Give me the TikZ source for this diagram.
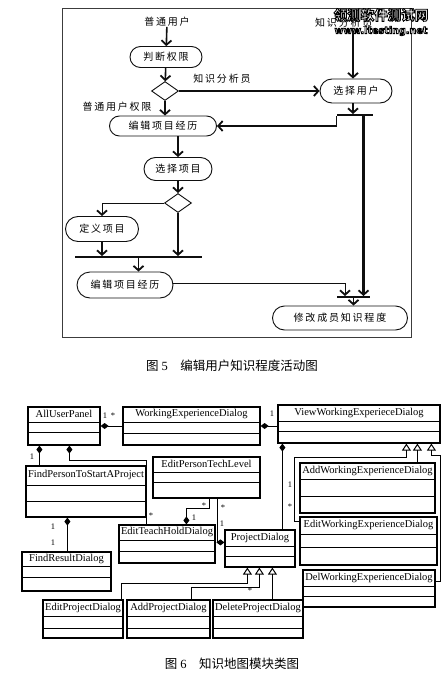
\documentclass[tikz,border=0pt]{standalone}
\usepackage{fontspec}
\setmainfont{Liberation Serif}
\newfontfamily\cjk[LetterSpace=18]{Noto Sans CJK SC}
\newfontfamily\cjkcap{Noto Sans CJK SC}
\newfontfamily\wmfont{Noto Sans CJK SC}
\newfontfamily\wmurlfont{DejaVu Sans}
\usetikzlibrary{positioning,arrows.meta,fit,calc,shapes.misc,shapes.geometric}
\definecolor{flowblack}{RGB}{15,15,15}
\definecolor{framegray}{RGB}{60,60,60}

\newcommand{\umlclass}[6]{%
  \node[classbox, fit={#2 #3}] (#1) {};
  \node[classname] (#1-t) at ($(#1.north)+(0,#4/2)$) {#6};
  \draw[classbox] ($(#1.north west)+(0,#4)$) -- ($(#1.north east)+(0,#4)$);
  \draw[classbox] ($(#1.north west)+(0,#4+#5)$) -- ($(#1.north east)+(0,#4+#5)$);
}
\newcommand{\outlinetext}[2]{%
  \special{pdf:literal direct 2 Tr #1 w 0 0 0 RG}#2\special{pdf:literal direct 0 Tr}}

\begin{document}
\begin{tikzpicture}[x=1pt,y=-1pt,
    statebox/.style={rounded rectangle,draw=flowblack,line width=0.9pt,inner sep=0pt,
      font=\cjk\fontsize{10}{12}\selectfont},
    decision/.style={diamond,draw=flowblack,line width=0.9pt,inner sep=0pt,
      minimum width=27pt,minimum height=19pt},
    syncbar/.style={fill=flowblack,inner sep=0pt,minimum height=1.6pt},
    lbl/.style={inner sep=0pt,font=\cjk\fontsize{10}{12}\selectfont},
    flowline/.style={flowblack,line width=1.6pt,
      -{Straight Barb[length=4.5pt,width=10pt,line width=1.8pt]}},
    flowthin/.style={flowline,line width=0.9pt},
    flowthick/.style={flowline,line width=2.3pt},
    classbox/.style={draw=black,line width=1.2pt,inner sep=0pt},
    classname/.style={inner sep=0pt,font=\fontsize{10.5}{11}\selectfont},
    mult/.style={inner sep=0pt,font=\fontsize{8.5}{9}\selectfont},
    compo/.style={black,line width=1pt,{Diamond[length=8pt,width=6pt]}-},
    inherit/.style={black,line width=1pt,-{Triangle[open,length=7pt,width=9pt,line width=1pt]}},
    wmark/.style={inner sep=0pt,text=white,font=\wmfont\bfseries\fontsize{13.5}{14}\selectfont},
    wmurl/.style={inner sep=0pt,text=white,font=\wmurlfont\bfseries\fontsize{9.6}{10}\selectfont},
    capt/.style={inner sep=0pt,font=\cjkcap\fontsize{12.5}{14}\selectfont}]
\useasboundingbox[fill=white] (0,0) rectangle (442,677);

\draw[framegray,line width=0.9pt] (62,8) rectangle (411,337);

\node[lbl] (lbluser) at (167,22) {普通用户};
\node[statebox,minimum width=72pt,minimum height=21pt] (judge) at (166,57) {判断权限};
\node[decision] (dec1) at (165,91) {};
\node[lbl] (lblanalyst) at (222,79) {知识分析员};
\node[lbl,anchor=west] (lbltop) at (315,23) {知识分析员};
\node[statebox,minimum width=72pt,minimum height=24pt] (chooseuser) at (356,91) {选择用户};
\node[syncbar,minimum width=36pt] (fork1) at (354.5,115) {};
\node[lbl] (lblnormal) at (117,107) {普通用户权限};
\node[statebox,minimum width=107pt,minimum height=20pt] (editexp1) at (163,126) {编辑项目经历};
\node[statebox,minimum width=68pt,minimum height=23pt] (chooseproj) at (178,169) {选择项目};
\node[decision] (dec2) at (178,203) {};
\node[statebox,minimum width=73pt,minimum height=25pt] (defproj) at (102,229) {定义项目};
\node[syncbar,minimum width=127pt] (fork2) at (138.5,257) {};
\node[statebox,minimum width=96pt,minimum height=26pt] (editexp2) at (125,285) {编辑项目经历};
\node[syncbar,minimum width=33pt] (join) at (353.5,297) {};
\node[statebox,minimum width=135pt,minimum height=24pt] (modify) at (340,318) {修改成员知识程度};
\coordinate (f1r) at ($(fork1.south)+(9,0)$);
\coordinate (j1l) at ($(join.north)+(-8.5,0)$);

\draw[flowline] (lbluser) -- (judge);
\draw[flowline] (judge) -- (dec1);
\draw[flowline] (dec1.east) -- (chooseuser.west);
\draw[flowline] (lbltop.south -| 353,0) -- (chooseuser.north -| 353,0);
\draw[flowline] (dec1.south) -- (dec1.south |- editexp1.north);
\draw[flowline] (chooseuser.south -| 353,0) -- (fork1.north -| 353,0);
\draw[flowline,line width=1.2pt] (fork1.south west) |- (editexp1.east);
\draw[flowthick] (f1r) -- (f1r |- join.north);
\draw[flowline] (editexp1.south -| chooseproj) -- (chooseproj.north);
\draw[flowline] (chooseproj) -- (dec2);
\draw[flowthin] (dec2.west) -| (defproj.north);
\draw[flowthick] (dec2.south) -- (dec2.south |- fork2.north);
\draw[flowline] (defproj.south) -- (defproj.south |- fork2.north);
\draw[flowline] (fork2.south) -- (fork2.south |- editexp2.north);
\draw[flowthin] ($(editexp2.east)+(0,-2)$) -| (j1l);
\draw[flowline] (join.south) -- (join.south |- modify.north);

\node[wmark] (wmtitle) at (381,15) {\outlinetext{0.9}{领测软件测试网}};
\node[wmurl] (wmaddr) at (381,31) {\outlinetext{0.8}{www.ltesting.net}};

\node[capt] (cap5) at (232,366) {图 {\rmfamily 5}\quad 编辑用户知识程度活动图};

\umlclass{apanel}{(28,407)}{(100,445)}{16}{10}{AllUserPanel}
\umlclass{wexp}{(123,407)}{(260,445)}{16}{11}{WorkingExperienceDialog}
\umlclass{vwexp}{(278,405)}{(440,443)}{17}{10}{ViewWorkingExperieceDialog}
\umlclass{findp}{(26,466)}{(146,517)}{20}{16}{FindPersonToStartAProject}
\umlclass{findr}{(22,552)}{(111,591)}{15}{11}{FindResultDialog}
\umlclass{eptl}{(153,457)}{(260,498)}{16}{10}{EditPersonTechLevel}
\umlclass{eth}{(119,525)}{(215,563)}{16}{11}{EditTeachHoldDialog}
\umlclass{proj}{(225,530)}{(295,567)}{17}{10}{ProjectDialog}
\umlclass{editp}{(43,600)}{(123,638)}{17}{12}{EditProjectDialog}
\umlclass{addp}{(127,600)}{(210,638)}{17}{12}{AddProjectDialog}
\umlclass{delp}{(213,600)}{(303,638)}{17}{12}{DeleteProjectDialog}
\umlclass{addw}{(300,463)}{(435,513)}{17}{17}{AddWorkingExperienceDialog}
\umlclass{editw}{(300,517)}{(437,565)}{18}{13}{EditWorkingExperienceDialog}
\umlclass{delw}{(303,570)}{(435,607)}{17}{10}{DelWorkingExperienceDialog}

\draw[compo] (apanel.east) -- (apanel.east -| wexp.west);
\draw[compo] (wexp.east) -- (wexp.east -| vwexp.west);
\draw[compo] ($(apanel.south west)+(12,0)$) -- ($(findp.north west)+(14,0)$);
\draw[compo] ($(apanel.south west)+(42,0)$) -- ++(0,15) -| ($(eth.north west)+(28,0)$);
\draw[compo] ($(findp.south west)+(42,0)$) -- ($(findr.north west)+(46,0)$);
\draw[compo] ($(eth.north west)+(68,0)$) |- ($(eptl.south west)+(57,10)$) -- ($(eptl.south west)+(57,0)$);
\draw[compo] ($(proj.north west)+(0,13)$) -| ($(eptl.south west)+(65,0)$);
\draw[compo] ($(vwexp.south west)+(5,0)$) -- ($(proj.north west)+(58,0)$);
\draw[inherit] ($(editp.north east)+(-2,0)$) |- ($(proj.south west)+(23,16)$) -- ($(proj.south west)+(23,0)$);
\draw[inherit] ($(addp.north west)+(65,0)$) |- ($(proj.south west)+(35,20)$) -- ($(proj.south west)+(35,0)$);
\draw[inherit] ($(delp.north west)+(60,0)$) -- ($(proj.south west)+(48,0)$);
\draw[inherit] ($(editw.north west)+(0,5)$) -- ++(-5,0) |- ($(vwexp.south west)+(129,14)$) -- ($(vwexp.south west)+(129,0)$);
\draw[inherit] ($(addw.north west)+(118,0)$) -- ($(vwexp.south west)+(140,0)$);
\draw[inherit] ($(delw.north east)+(0,12)$) -- ++(5,0) |- ($(vwexp.south west)+(154,12)$) -- ($(vwexp.south west)+(154,0)$);

\node[mult] (m1) at (105,416) {1};
\node[mult] (m2) at (113,416) {*};
\node[mult] (m3) at (272,414) {1};
\node[mult] (m4) at (32,457) {1};
\node[mult] (m5) at (151,516) {*};
\node[mult] (m6) at (53,527) {1};
\node[mult] (m7) at (53,543) {1};
\node[mult] (m8) at (204,506) {*};
\node[mult] (m9) at (194,518) {1};
\node[mult] (m10) at (223,508) {*};
\node[mult] (m11) at (222,524) {1};
\node[mult] (m12) at (290,485) {1};
\node[mult] (m13) at (290,507) {*};
\node[mult] (m14) at (250,591) {*};

\node[capt] (cap6) at (232,664) {图 {\rmfamily 6}\quad 知识地图模块类图};
\end{tikzpicture}
\end{document}
